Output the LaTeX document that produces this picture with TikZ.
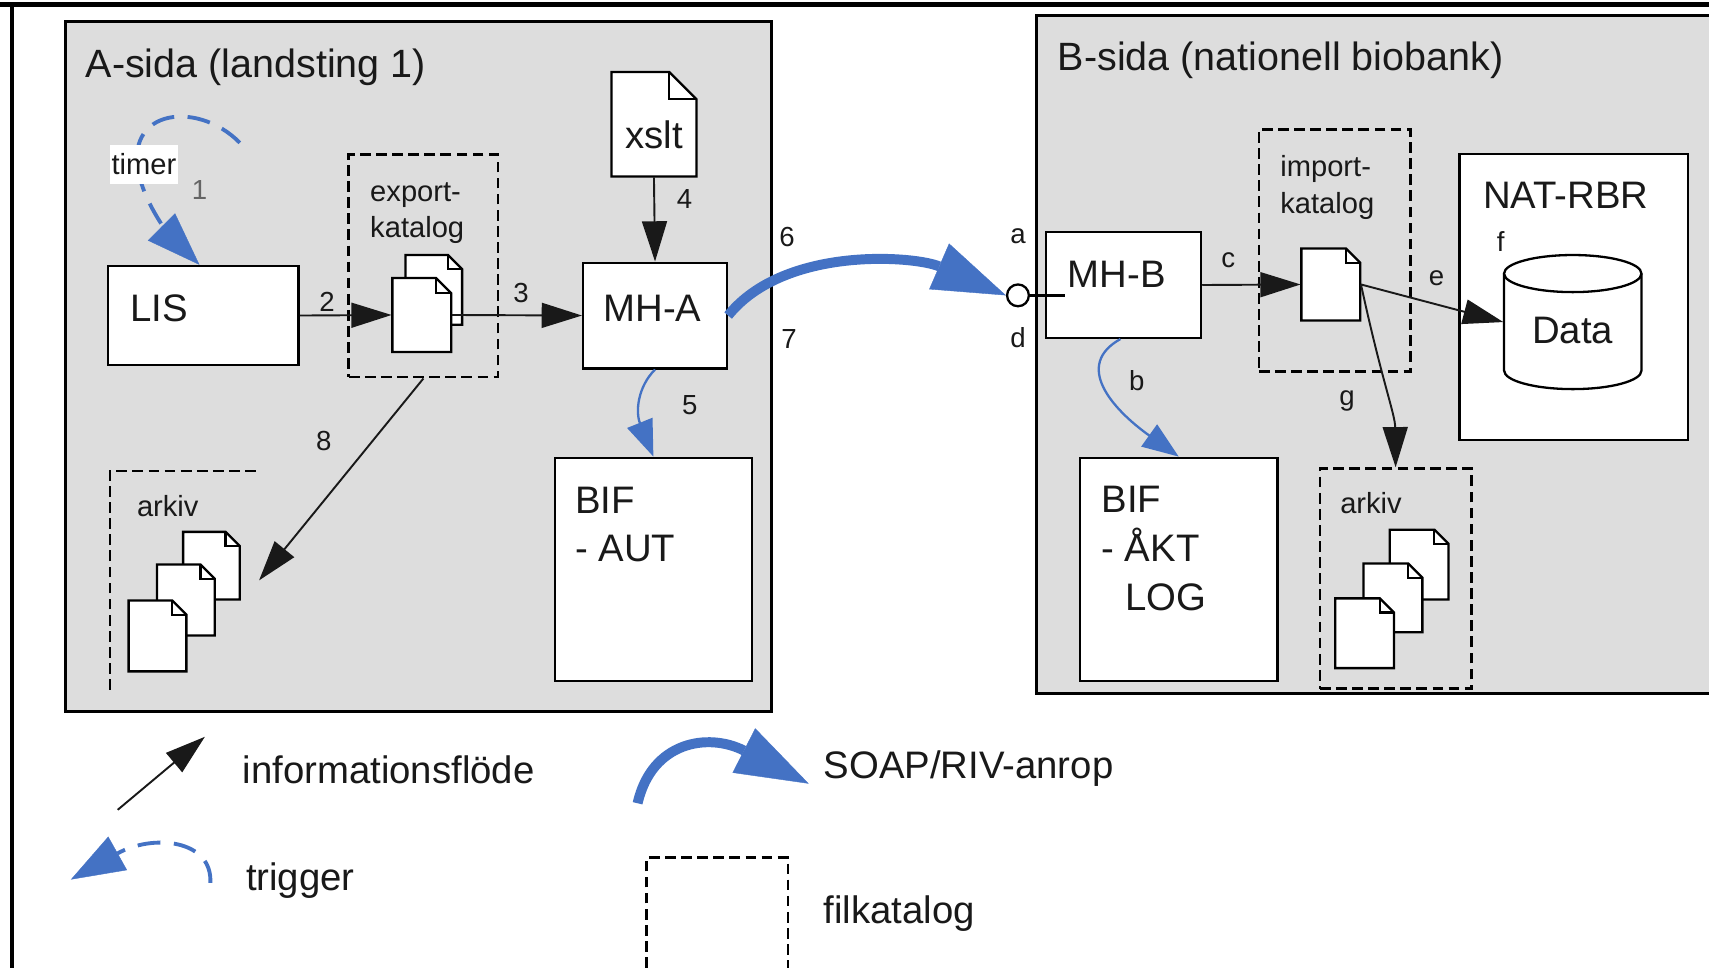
\documentclass[tikz,border=0pt]{standalone}
\usepackage{fontspec}
\setmainfont{Liberation Sans}
\usetikzlibrary{arrows.meta,fit}
\definecolor{panelgray}{RGB}{221,221,221}
\definecolor{callblue}{RGB}{68,114,196}
\definecolor{inkc}{RGB}{25,25,25}
\definecolor{numgray}{RGB}{100,100,100}
% #1 name, #2 left x, #3 top y, #4 width, #5 height, #6 fold
\newcommand{\docshape}[6]{%
  \path[docline] (#2,#3) -- (#2+#4-#6,#3) -- (#2+#4,#3+#6) -- (#2+#4,#3+#5) -- (#2,#3+#5) -- cycle;
  \draw[docfold] (#2+#4-#6,#3) -- (#2+#4-#6,#3+#6) -- (#2+#4,#3+#6);
  \node[fit={(#2,#3) (#2+#4,#3+#5)}, inner sep=0pt] (#1) {};
}
\tikzset{
  panel/.style={draw=black, line width=0.8pt, fill=panelgray},
  sysbox/.style={draw=black, line width=0.6pt, fill=white, inner sep=0pt},
  dirbox/.style={draw=black, line width=0.7pt, dash pattern=on 2.8pt off 1.4pt},
  region/.style={inner sep=0pt},
  docline/.style={draw=black, fill=white, line width=0.6pt, line join=miter},
  docfold/.style={draw=black, line width=0.6pt},
  flow/.style={draw=inkc, line width=0.5pt, -{Triangle[length=10.5pt,width=6.5pt]}},
  soap/.style={draw=callblue, line width=2.6pt, -{Triangle[length=19pt,width=13pt,line width=0.1pt]}},
  callthin/.style={draw=callblue, line width=0.6pt, -{Triangle[length=9.5pt,width=7pt]}},
  trig/.style={draw=callblue, line width=1pt, dash pattern=on 6pt off 3.5pt, -{Triangle[length=14pt,width=10pt,line width=0.1pt]}},
  big/.style={font=\fontsize{10}{12}\selectfont, text=inkc, inner sep=0pt},
  ttl/.style={font=\fontsize{10.3}{12}\selectfont, text=inkc, inner sep=0pt},
  small/.style={font=\fontsize{7.6}{9}\selectfont, text=inkc, inner sep=0pt},
  num/.style={font=\fontsize{7.2}{9}\selectfont, text=inkc, inner sep=0pt},
}
\begin{document}
\begin{tikzpicture}[x=0.01cm,y=-0.01cm]
\useasboundingbox (0,0) rectangle (1568,888);
\fill[white] (0,0) rectangle (1568,888);
% outer frame
\draw[line width=1.4pt] (0,4) -- (1568,4);
\draw[line width=1pt] (11,4) -- (11,888);
% panels
\node[panel, fit={(60,20) (708,653)}, inner sep=0pt] (pa) {};
\node[panel, fit={(951,14) (1590,636)}, inner sep=0pt] (pb) {};
\node[ttl, anchor=base west] (paT) at (78,71.5) {A-sida (landsting 1)};
\node[ttl, anchor=base west] (pbT) at (970,65) {B-sida (nationell biobank)};

% A side boxes
\node[sysbox, fit={(99,244) (274,335)}] (lis) {};
\node[dirbox, fit={(320,142) (457,346)}, inner sep=0pt] (expbox) {};
\node[sysbox, fit={(535,241) (667,338)}] (mha) {};
\node[sysbox, fit={(509,420) (690,625)}] (bifa) {};
\node[region, fit={(101,432) (237,633)}] (arkA) {};
\draw[dirbox] (101,633) -- (101,432) -- (237,432);

% B side boxes
\node[sysbox, fit={(960,213) (1102,310)}] (mhb) {};
\node[dirbox, fit={(1155,119) (1294,341)}, inner sep=0pt] (impbox) {};
\node[sysbox, fit={(1339,141) (1549,404)}] (nat) {};
\node[sysbox, fit={(991,420) (1172,625)}] (bifb) {};
\node[dirbox, fit={(1211,430) (1350,632)}, inner sep=0pt] (arkB) {};

% documents
\docshape{xslt}{561}{66}{78}{96}{25}
\docshape{edoc2}{372}{234}{52}{64}{13}
\docshape{edoc1}{360}{255}{54}{68}{14}
\docshape{adoc3}{168}{488}{52}{62}{13}
\docshape{adoc2}{144}{518}{53}{65}{13}
\docshape{adoc1}{118}{551}{53}{65}{13}
\docshape{idoc}{1194}{228}{54}{66}{13}
\docshape{bdoc3}{1275}{486}{54}{64}{13}
\docshape{bdoc2}{1251}{517}{54}{63}{13}
\docshape{bdoc1}{1225}{549}{54}{64}{13}

% cylinder
\node[region, fit={(1380,234) (1506,357)}] (cyl) {};
\fill[white] (1380,251) -- (1380,340) arc[start angle=180,end angle=360,x radius=0.63cm,y radius=0.17cm] -- (1506,251) -- cycle;
\draw[line width=0.6pt] (1380,251) -- (1380,340) arc[start angle=180,end angle=360,x radius=0.63cm,y radius=0.17cm] -- (1506,251);
\draw[line width=0.6pt, fill=white] (1443,251) ellipse [x radius=0.63cm, y radius=0.17cm];

% interface circle
\node[circle, draw=black, fill=white, line width=0.6pt, minimum size=0.2cm, inner sep=0pt] (circ) at (934,271) {};
\coordinate (lolend) at (977,271);
\draw[line width=0.6pt] (circ.east) -- (lolend);

% arrows A side
\coordinate (t1s) at (220,131);
\draw[trig] (t1s) .. controls (180,90) and (105,100) .. (131,172) .. controls (141,200) and (160,220) .. (183,0 |- lis.north);
\draw[flow] (lis.east) -- (edoc1.west);
\draw[flow] (edoc1.east) -- (mha.west);
\draw[flow] (xslt.south) -- (mha.north);
\draw[callthin] (mha.south) .. controls (585,355) and (583,378) .. (bifa.north);
\draw[flow] (expbox.south) -- (arkA.east);
\draw[soap] (mha.east) .. controls (720,225) and (840,235) .. (circ.west);

% arrows B side
\draw[callthin] (1028,0 |- mhb.south) .. controls (985,335) and (1020,375) .. (bifb.north);
\draw[flow] (mhb.east) -- (idoc.west);
\draw[flow] (idoc.east) -- (cyl.west);
\draw[flow] (idoc.east) .. controls (1268,350) and (1280,380) .. (arkB.north);

% texts
\node[small, fill=white, minimum width=0.62cm, minimum height=0.35cm] (timer) at (132,151) {timer};
\node[big, anchor=base west] (lisT) at (119,295) {LIS};
\node[big, anchor=base west] (mhaT) at (553,295) {MH-A};
\node[big, anchor=base] (xsltT) at (600,136) {xslt};
\node[small, anchor=base west] (expT1) at (339,185) {export-};
\node[small, anchor=base west] (expT2) at (339,218) {katalog};
\node[small, anchor=base west] (arkAT) at (125,474) {arkiv};
\node[big, anchor=base west] (bifaT1) at (527,471) {BIF};
\node[big, anchor=base west] (bifaT2) at (527,515) {- AUT};
\node[big, anchor=base west] (mhbT) at (979,264) {MH-B};
\node[small, anchor=base west] (impT1) at (1174,162) {import-};
\node[small, anchor=base west] (impT2) at (1174,196) {katalog};
\node[big, anchor=base west] (natT) at (1360,191) {NAT-RBR};
\node[big, anchor=base] (dataT) at (1443,315) {Data};
\node[big, anchor=base west] (bifbT1) at (1010,470) {BIF};
\node[big, anchor=base west] (bifbT2) at (1010,515) {- ÅKT};
\node[big, anchor=base west] (bifbT3) at (1032,560) {LOG};
\node[small, anchor=base west] (arkBT) at (1229,471) {arkiv};

% numbers and letters
\node[num, text=numgray] (n1) at (183,174) {1};
\node[num] (n2) at (300,277) {2};
\node[num] (n3) at (478,269) {3};
\node[num] (n4) at (628,183) {4};
\node[num] (n5) at (633,372) {5};
\node[num] (n6) at (722,217) {6};
\node[num] (n7) at (724,311) {7};
\node[num] (n8) at (297,405) {8};
\node[num] (la) at (934,217) {a};
\node[num] (lb) at (1043,349) {b};
\node[num] (lc) at (1127,239) {c};
\node[num] (ld) at (934,310) {d};
\node[num] (le) at (1318,255) {e};
\node[num] (lf) at (1377,222) {f};
\node[num] (lg) at (1236,368) {g};

% legend
\coordinate (lf1) at (108,743);
\coordinate (lf2) at (188,676);
\draw[flow] (lf1) -- (lf2);
\node[big, anchor=base west] (legflow) at (222,719) {informationsflöde};
\coordinate (ls1) at (585,737);
\coordinate (ls2) at (742,719);
\draw[soap] (ls1) .. controls (598,680) and (650,672) .. (ls2);
\node[big, anchor=base west] (legsoap) at (755,714) {SOAP/RIV-anrop};
\coordinate (lt1) at (193,810);
\coordinate (lt2) at (65,807);
\draw[trig] (lt1) .. controls (195,770) and (140,765) .. (lt2);
\node[big, anchor=base west] (legtrig) at (225,817) {trigger};
\draw[dirbox] (593,888) -- (593,787) -- (723,787) -- (723,888);
\node[big, anchor=base west] (legdir) at (755,847) {filkatalog};
\end{tikzpicture}
\end{document}
